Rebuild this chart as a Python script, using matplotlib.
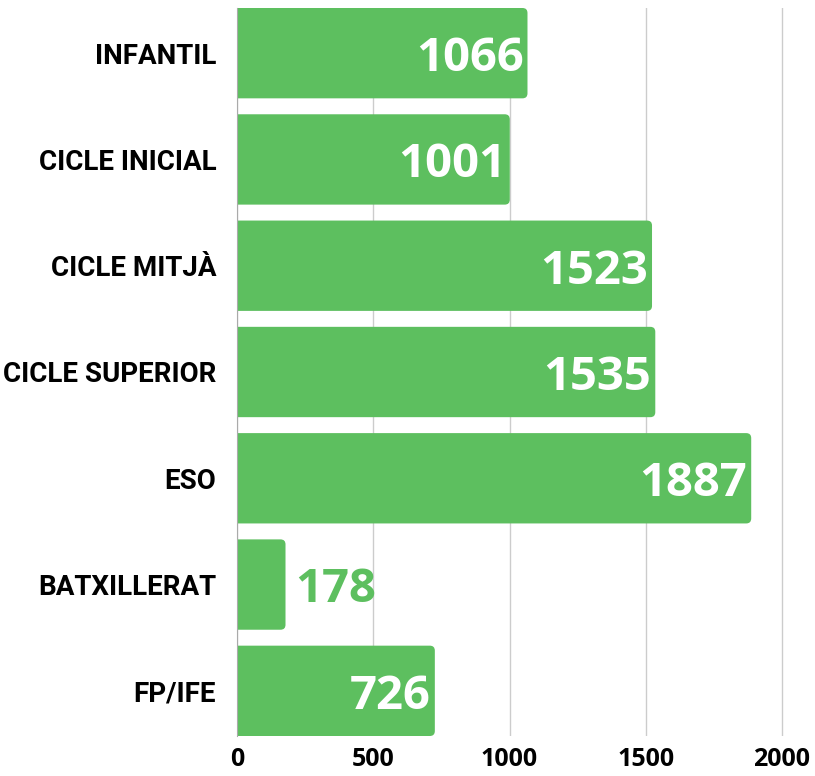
import matplotlib.pyplot as plt
from matplotlib.patches import FancyBboxPatch

# data
categories = ["INFANTIL", "CICLE INICIAL", "CICLE MITJÀ", "CICLE SUPERIOR",
              "ESO", "BATXILLERAT", "FP/IFE"]
values = [1066, 1001, 1523, 1535, 1887, 178, 726]
xticks = [0, 500, 1000, 1500, 2000]

green = "#5dbf5f"
label_font = "Roboto"
num_font = "Open Sans"

fig = plt.figure(figsize=(8.15, 7.76), dpi=100)
ax = fig.add_axes([237/815, 1 - 736/776, (815 - 237)/815, 728/776])

bar_h = 0.85
xmax = (815 - 237) / (545.0 / 2000)
ax.set_xlim(0, xmax)
ax.set_ylim(len(values) - 1 + bar_h/2, -bar_h/2)

# pixel scales for the rounded corners
px_x = xmax / (815 - 237)
px_y = (len(values) - 1 + bar_h) / 728
r = 5 * px_x

for i, v in enumerate(values):
    box = FancyBboxPatch((-30, i - bar_h/2), v + 30, bar_h,
                         boxstyle="round,pad=0,rounding_size=%f" % r,
                         mutation_aspect=px_y / px_x,
                         facecolor=green, edgecolor="none", zorder=3)
    ax.add_patch(box)
    if v > 400:
        ax.text(v - 4 * px_x, i + 0.05, str(v), ha="right", va="center",
                color="white", fontsize=34, fontweight="bold",
                family=num_font, zorder=4)
    else:
        ax.text(v + 10 * px_x, i + 0.05, str(v), ha="left", va="center",
                color=green, fontsize=34, fontweight="bold",
                family=num_font, zorder=4)

ax.set_yticks(range(len(categories)))
ax.set_yticklabels(categories, fontsize=20, fontweight="bold", family=label_font)
ax.set_xticks(xticks)
ax.set_xticklabels([str(t) for t in xticks], fontsize=18, fontweight="bold",
                   family=num_font)
ax.tick_params(axis="y", length=0, pad=15)
ax.tick_params(axis="x", length=0, pad=8)

ax.xaxis.grid(True, color="#cccccc", linewidth=1)
ax.set_axisbelow(True)
for s in ["top", "right", "bottom"]:
    ax.spines[s].set_visible(False)
ax.spines["left"].set_color("#aaaaaa")
ax.spines["left"].set_zorder(5)

fig.savefig("out.png", dpi=100)
